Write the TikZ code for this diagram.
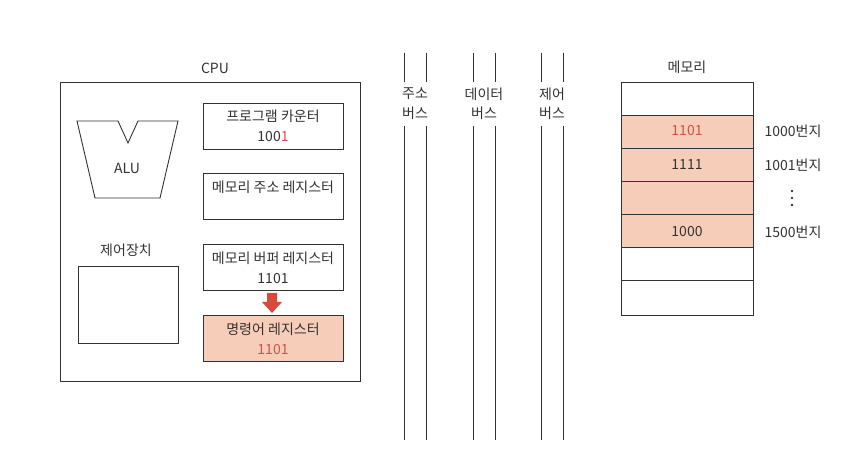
\documentclass[tikz,border=0pt]{standalone}
\usepackage{fontspec}
\setmainfont{Noto Sans CJK KR}
\definecolor{ln}{HTML}{333333}
\definecolor{salmon}{HTML}{F6CDB8}
\definecolor{redtxt}{HTML}{D0504A}
\definecolor{redarr}{HTML}{D94A3E}
\begin{document}
\begin{tikzpicture}[x=1pt,y=-1pt,
  every node/.style={font=\fontsize{14}{16}\selectfont, text=ln, inner sep=0pt},
  box/.style={draw=ln, line width=0.9pt},
  reg/.style={box, minimum width=140pt, minimum height=46pt, anchor=north west},
  busline/.style={draw=ln, line width=0.8pt},
  dot/.style={circle, fill=ln, minimum size=2.6pt}]
\useasboundingbox (0,0) rectangle (868,473);
\fill[white] (0,0) rectangle (868,473);
% CPU
\node (cpulbl) at (215,68) {CPU};
\node[box, minimum width=300pt, minimum height=299pt, anchor=north west] (cpu) at (60,82) {};
% ALU
\draw[box] (77,121) -- (118,121) -- (128,143) -- (138,121) -- (178,121) -- (160,198) -- (95,198) -- cycle;
\node (alu) at (127,168) {ALU};
% control unit
\node (cu lbl) at (126,250) {제어장치};
\node[box, minimum width=100pt, minimum height=77pt, anchor=north west] (cu) at (78,266) {};
% registers
\node[reg] (pc) at (203,103) {};
\node (pct) at (273,116) {프로그램 카운터};
\node (pcv) at (273,137) {100\textcolor{redtxt}{1}};
\node[reg] (mar) at (203,173) {};
\node (mart) at (273,187) {메모리 주소 레지스터};
\node[reg] (mbr) at (203,244) {};
\node (mbrt) at (273,258) {메모리 버퍼 레지스터};
\node (mbrv) at (273,279) {1101};
\node[reg, fill=salmon] (ir) at (203,315) {};
\node (irt) at (273,329) {명령어 레지스터};
\node (irv) at (273,350) {\textcolor{redtxt}{1101}};
% arrow
\fill[redarr] (267,293) -- (277,293) -- (277,302) -- (282,302) -- (272,313) -- (262,302) -- (267,302) -- cycle;
% buses
\foreach \n/\xa/\xb/\ta/\tb in {addr/404/426/주소/버스, data/473/495/데이터/버스, ctrl/541/563/제어/버스}{
  \coordinate (\n a1) at (\xa,53); \coordinate (\n a2) at (\xa,82);
  \coordinate (\n b1) at (\xb,53); \coordinate (\n b2) at (\xb,82);
  \coordinate (\n a3) at (\xa,126); \coordinate (\n a4) at (\xa,440);
  \coordinate (\n b3) at (\xb,126); \coordinate (\n b4) at (\xb,440);
  \draw[busline] (\n a1) -- (\n a2) (\n b1) -- (\n b2) (\n a3) -- (\n a4) (\n b3) -- (\n b4);
  \node (\n t1) at ({(\xa+\xb)/2},94) {\ta};
  \node (\n t2) at ({(\xa+\xb)/2},113) {\tb};
}
% memory
\node (memlbl) at (687,67) {메모리};
\fill[salmon] (621,115) rectangle (753,247);
\node[box, minimum width=132pt, minimum height=233pt, anchor=north west] (mem) at (621,82) {};
\foreach \y in {115,148,181,214,247,280}{
  \draw[draw=ln, line width=0.9pt] (621,\y) -- (753,\y);
}
\node (m1) at (687,131) {\textcolor{redtxt}{1101}};
\node (m2) at (687,165) {1111};
\node (m4) at (687,232) {1000};
\node (a1) at (793,131) {1000번지};
\node (a2) at (793,165) {1001번지};
\node[dot] (d1) at (792,191) {};
\node[dot] (d2) at (792,198) {};
\node[dot] (d3) at (792,205) {};
\node (a4) at (793,232) {1500번지};
\end{tikzpicture}
\end{document}
